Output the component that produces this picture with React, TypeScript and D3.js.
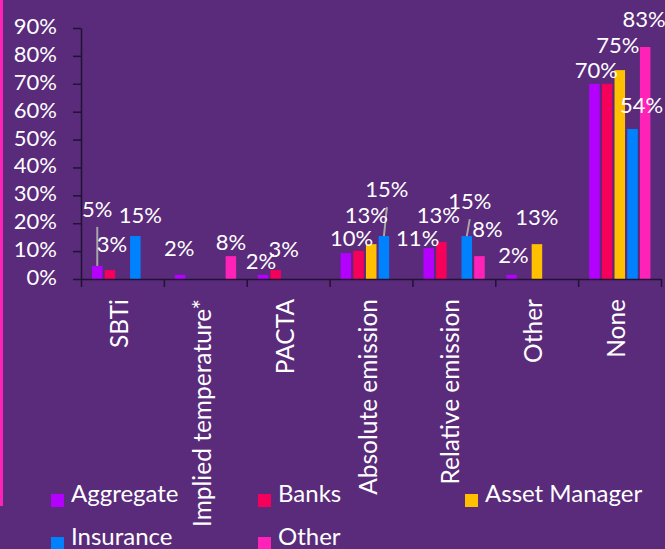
import * as d3 from "d3";
import React, { useEffect, useRef } from "react";

// categories on the x axis
const categories = [
  "SBTi",
  "Implied temperature*",
  "PACTA",
  "Absolute emission",
  "Relative emission",
  "Other",
  "None",
];

const seriesNames = ["Aggregate", "Banks", "Asset Manager", "Insurance", "Other"];

// values in percent, null = no bar
const aggregate = [4.7, 1.5, 1.5, 9.3, 11.1, 1.5, 70];
const banks = [3.2, null, 3.2, 10.1, 13.3, null, 70];
const assetManager = [null, null, null, 12.5, null, 12.5, 74.9];
const insurance = [15.4, null, null, 15.4, 15.4, null, 53.8];
const other = [null, 8.2, null, null, 8.2, null, 83.2];

const seriesColors = ["#B300FF", "#F5005A", "#FFC000", "#0082FF", "#FF22B8"];

const yTicks = [0, 10, 20, 30, 40, 50, 60, 70, 80, 90];

// which data labels are shown, and how far Excel moved them off the bar
const labelOffsets = [
  { s: 0, c: 0, dx: 0, dy: -43 },
  { s: 1, c: 0, dx: 2, dy: -12 },
  { s: 3, c: 0, dx: 5, dy: -7 },
  { s: 0, c: 1, dx: -1, dy: -13 },
  { s: 4, c: 1, dx: 0, dy: 0 },
  { s: 0, c: 2, dx: -2, dy: 0 },
  { s: 1, c: 2, dx: 8, dy: -7 },
  { s: 1, c: 3, dx: -7, dy: 1 },
  { s: 2, c: 3, dx: -5, dy: -15 },
  { s: 3, c: 3, dx: 3, dy: -33 },
  { s: 0, c: 4, dx: -11, dy: 4 },
  { s: 1, c: 4, dx: -3, dy: -13 },
  { s: 3, c: 4, dx: 3, dy: -21 },
  { s: 4, c: 4, dx: 8, dy: -13 },
  { s: 0, c: 5, dx: 2, dy: -6 },
  { s: 2, c: 5, dx: 0, dy: -13 },
  { s: 0, c: 6, dx: 2, dy: 0 },
  { s: 2, c: 6, dx: -2, dy: -11 },
  { s: 3, c: 6, dx: 9, dy: -10 },
  { s: 4, c: 6, dx: -1, dy: -14 },
];

const W = 665;
const H = 549;
const FONT = "Lato, 'Open Sans', sans-serif";
const BG = "#5A2A7B";
const AXIS = "#221233";

export default function App() {
  const ref = useRef<SVGSVGElement>(null);

  useEffect(() => {
    const svg = d3.select(ref.current);
    svg.selectAll("*").remove();

    const seriesValues = [aggregate, banks, assetManager, insurance, other];

    const y = d3.scaleLinear().domain([0, 90]).range([279, 28]);
    const x0 = d3.scaleBand<string>().domain(categories).range([81, 661]);
    const x1 = d3.scaleBand<string>().domain(seriesNames).range([11, 72.3]).paddingInner(0.17);
    const xEdges = d3.scaleLinear().domain([0, categories.length]).range([81, 661]);

    svg.append("rect").attr("width", W).attr("height", H).attr("fill", BG);
    svg.append("rect").attr("x", 0).attr("y", 0).attr("width", 3).attr("height", 506).attr("fill", "#FF22B8");

    // bars
    seriesValues.forEach((vals, si) => {
      svg.append("g")
        .selectAll("rect")
        .data(vals.map((v, ci) => ({ v, ci })).filter(d => d.v != null))
        .enter()
        .append("rect")
        .attr("x", d => x0(categories[d.ci])! + x1(seriesNames[si])!)
        .attr("y", d => y(d.v as number))
        .attr("width", x1.bandwidth())
        .attr("height", d => y(0) - y(d.v as number))
        .attr("fill", seriesColors[si]);
    });

    // y axis
    const yAxis = svg.append("g")
      .attr("transform", "translate(81,0)")
      .call(d3.axisLeft(y).tickValues(yTicks).tickSize(8).tickSizeOuter(0).tickPadding(16).tickFormat(d => d + "%"));
    yAxis.select(".domain").attr("stroke", AXIS).attr("stroke-width", 1.5);
    yAxis.selectAll(".tick line").attr("stroke", AXIS).attr("stroke-width", 1.5);
    yAxis.selectAll(".tick text")
      .attr("fill", "#fff")
      .attr("font-family", FONT)
      .attr("font-size", 22)
      .attr("dy", "0.25em");

    // x axis, ticks at category boundaries
    const xAxis = svg.append("g")
      .attr("transform", "translate(0,279)")
      .call(d3.axisBottom(xEdges).tickValues(d3.range(categories.length + 1)).tickSize(8).tickSizeOuter(0).tickFormat(() => ""));
    xAxis.select(".domain").attr("stroke", AXIS).attr("stroke-width", 1.5);
    xAxis.selectAll(".tick line").attr("stroke", AXIS).attr("stroke-width", 1.5);

    svg.append("g")
      .selectAll("text")
      .data(categories)
      .enter()
      .append("text")
      .attr("transform", d => `translate(${x0(d)! + x0.bandwidth() / 2 - 3},299) rotate(-90)`)
      .attr("text-anchor", "end")
      .attr("dy", "0.35em")
      .attr("fill", "#fff")
      .attr("font-family", FONT)
      .attr("font-size", 24.5)
      .text(d => d);

    // data labels
    const labels = labelOffsets.map(o => {
      const v = seriesValues[o.s][o.c] as number;
      const cx = x0(categories[o.c])! + x1(seriesNames[o.s])! + x1.bandwidth() / 2;
      const top = y(v);
      return { v, cx, top, lx: cx + o.dx, ly: top - 6 + o.dy, leader: o.dy < -20 };
    });

    svg.append("g")
      .selectAll("line")
      .data(labels.filter(d => d.leader))
      .enter()
      .append("line")
      .attr("x1", d => d.lx)
      .attr("y1", d => d.ly + 10)
      .attr("x2", d => d.cx)
      .attr("y2", d => d.top)
      .attr("stroke", "#A6A6A6")
      .attr("stroke-width", 2);

    svg.append("g")
      .selectAll("text")
      .data(labels)
      .enter()
      .append("text")
      .attr("x", d => d.lx)
      .attr("y", d => d.ly)
      .attr("text-anchor", "middle")
      .attr("fill", "#fff")
      .attr("font-family", FONT)
      .attr("font-size", 22)
      .text(d => Math.round(d.v) + "%");

    // legend
    const legendCols = [51, 258, 465];
    const legendRows = [494, 537];
    const legend = svg.append("g")
      .selectAll("g")
      .data(seriesNames)
      .enter()
      .append("g")
      .attr("transform", (d, i) => `translate(${legendCols[i % 3]},${legendRows[Math.floor(i / 3)]})`);
    legend.append("rect").attr("width", 13).attr("height", 13).attr("fill", (d, i) => seriesColors[i]);
    legend.append("text")
      .attr("x", 20)
      .attr("y", 8)
      .attr("fill", "#fff")
      .attr("font-family", FONT)
      .attr("font-size", 24)
      .text(d => d);
  }, []);

  return (
    <svg
      ref={ref}
      width={W}
      height={H}
      style={{ position: "absolute", left: 0, top: 0, display: "block" }}
    />
  );
}
